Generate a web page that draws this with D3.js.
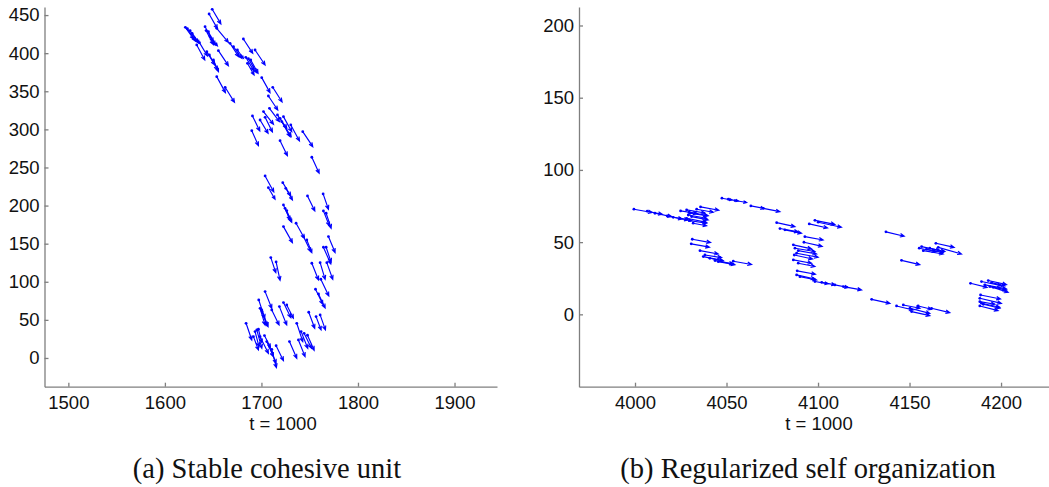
<!DOCTYPE html>
<html>
<head>
<meta charset="utf-8">
<script src="https://cdn.jsdelivr.net/npm/d3@7"></script>
<style>
body { margin: 0; background: #fff; }
svg { display: block; }
.tick text { font-family: "Liberation Sans", Arial, sans-serif; font-size: 18.5px; fill: #111; }
.domain, .tick line { stroke: #7f7f7f; stroke-width: 1.3; }
.xlab { font-family: "Liberation Sans", Arial, sans-serif; font-size: 18.5px; fill: #111; }
</style>
</head>
<body>
<div id="testbed"></div>
<script>

//Panel (a) - stable cohesive unit, arrow tails and velocities
var leftX = [1649.0,1645.8,1621.2,1623.3,1626.1,1628.2,1633.0,1635.8,1641.6,1642.7,1645.1,1646.8,1643.4,1646.1,1650.3,1655.4,1653.7,1667.5,1671.0,1681.3,
    1693.4,1683.8,1686.5,1688.9,1685.5,1653.7,1662.4,1700.3,1711.7,1707.2,1708.3,1702.1,1716.6,1719.3,1721.1,1690.7,1698.6,1703.8,1730.4,1742.8,
    1690.0,1719.3,1752.2,1703.8,1707.2,1722.1,1725.2,1722.8,1675.1,
    1747.7,1763.9,1722.8,1724.5,1726.2,1764.2,1767.0,1722.8,1735.9,1743.5,1747.0,1769.4,1764.2,1767.0,1709.7,1715.2,1752.2,1760.8,1767.7,1761.5,
    1756.0,1759.1,1703.8,1697.2,1698.6,1700.7,1710.7,1718.6,1722.8,1726.2,1684.1,1693.4,1695.2,1698.6,1703.1,1705.5,1708.3,1715.2,1749.0,1756.6,
    1760.8,1736.6,1741.1,1744.2,1747.7,1738.3,1729.0,1710.7,1696.9,1691.7,1700.3];
var leftY = [457.6,451.4,433.9,432.2,429.6,426.1,410.8,413.8,434.8,429.6,428.2,421.7,402.0,397.6,391.1,403.3,432.6,412.9,408.6,418.6,
    404.2,394.6,392.8,391.1,386.7,369.2,355.2,367.9,355.2,343.8,327.6,323.3,318.9,314.5,310.2,317.6,312.3,315.8,305.8,297.0,
    298.3,285.2,263.4,238.9,223.5,230.1,222.7,316.7,404.2,
    212.6,215.3,200.8,196.4,193.4,193.0,189.9,172.4,176.8,159.3,154.9,159.3,145.3,145.3,131.7,126.0,124.3,125.1,125.1,103.3,
    90.2,84.0,87.1,76.2,65.2,60.9,63.0,67.4,72.7,69.6,45.5,34.6,36.8,28.0,29.4,21.5,14.9,16.2,60.0,54.3,
    56.5,45.5,34.6,32.4,29.8,23.7,21.5,11.4,37.7,28.0,63.0];
var leftU = [9.0,8.6,8.6,8.6,8.3,7.6,8.3,8.3,8.6,7.6,6.9,7.6,8.3,8.6,5.2,10.4,12.1,9.0,8.6,9.7,
    10.4,8.3,8.6,7.6,6.9,9.0,9.7,8.6,9.7,9.7,10.4,10.4,9.7,10.4,9.7,7.6,8.3,7.6,9.0,10.4,
    6.9,7.6,7.6,9.0,6.9,8.3,6.9,8.6,6.2,
    7.6,5.5,6.9,6.2,5.2,6.2,5.2,9.3,8.6,7.6,5.2,6.9,7.6,5.2,5.2,4.1,6.9,5.2,6.2,8.3,
    7.6,6.9,6.9,6.2,5.2,6.2,7.6,7.6,7.6,6.9,5.9,4.1,5.2,8.6,6.2,6.9,6.9,7.6,6.2,5.2,
    5.5,6.2,6.9,7.6,6.9,6.9,7.6,4.8,3.5,5.2,5.5];
var leftV = [-19.2,-19.2,-15.3,-16.6,-15.7,-13.1,-19.7,-17.5,-19.7,-18.4,-17.5,-12.2,-17.5,-19.7,-15.3,-19.7,-18.4,-17.5,-15.3,-18.8,
    -19.7,-17.5,-18.4,-17.5,-15.3,-21.0,-19.7,-19.7,-19.2,-18.4,-17.5,-16.6,-17.5,-24.1,-19.7,-19.7,-17.5,-19.2,-21.0,-19.7,
    -19.7,-19.7,-21.0,-21.0,-15.3,-17.5,-15.3,-19.7,-10.9,
    -19.7,-20.1,-19.7,-17.5,-15.3,-19.7,-19.7,-21.0,-19.7,-19.7,-16.6,-21.0,-21.9,-19.7,-19.7,-24.1,-21.9,-21.9,-21.9,-21.9,
    -19.7,-18.4,-21.9,-24.1,-21.9,-19.7,-19.7,-24.1,-19.7,-17.5,-21.9,-19.7,-24.1,-21.9,-15.3,-19.7,-21.9,-19.7,-21.0,-17.5,
    -19.7,-24.1,-21.9,-19.7,-19.7,-21.9,-21.9,-24.1,-17.5,-17.5,-21.0];

//Panel (b) - regularized self organization
var rightX = [3999.4,4006.7,4010.9,4017.6,4020.9,4024.5,4024.9,4028.2,4029.6,4029.1,4028.2,4030.0,4030.9,4033.7,4035.8,4031.8,4030.0,
    4047.5,4051.0,4054.6,4063.3,4070.1,4031.3,4030.7,4035.5,4038.2,4037.3,4040.9,4045.5,4053.7,4043.7,
    4077.4,4079.2,4081.9,4086.5,4087.4,4089.2,4088.3,4087.0,4086.5,4089.2,4088.6,4088.3,4090.1,4092.3,4092.8,4098.3,4095.2,4100.1,
    4098.3,4102.0,4109.2,4113.8,4129.3,4137.1,4145.6,4142.9,4146.6,4150.2,4154.7,4162.0,4151.1,
    4155.3,4156.6,4159.3,4157.5,4164.4,4165.7,4161.1,
    4183.3,4189.3,4191.2,4193.0,4193.9,4195.7,4188.8,4188.4,4189.3,4188.4,4190.3,4188.4,4194.8];
var rightY = [72.8,71.4,70.0,68.1,67.2,66.5,71.6,72.3,70.7,68.8,66.5,64.9,67.7,72.8,74.4,63.1,70.0,
    80.4,79.7,78.8,75.1,73.4,52.0,48.8,44.1,41.1,40.0,38.8,36.5,36.8,37.2,
    63.5,59.4,58.5,48.1,45.8,44.1,42.3,41.1,37.7,35.4,30.1,27.3,26.1,49.9,53.8,65.1,62.6,63.8,
    22.7,22.2,20.4,19.2,10.4,57.1,37.4,5.8,6.5,4.2,5.8,4.2,1.9,
    45.8,46.9,45.1,44.1,49.2,46.4,45.8,
    21.5,22.7,20.4,23.4,19.2,18.7,13.4,11.1,7.7,5.8,7.0,8.8,22.0];
var rightU = [10.0,8.2,9.1,8.2,8.2,6.4,9.1,10.0,10.0,10.0,10.9,9.1,9.1,9.1,10.0,7.3,10.0,
    5.5,5.5,6.4,7.3,9.1,10.0,10.0,10.0,9.1,10.9,7.3,9.1,10.0,10.0,
    10.0,10.0,9.1,10.0,10.9,10.0,11.8,10.0,10.0,9.1,10.0,10.0,9.1,10.0,10.0,10.9,10.0,12.7,
    7.3,7.3,7.3,10.0,10.0,10.0,10.0,9.1,9.1,10.9,7.3,10.0,10.0,
    9.1,10.0,9.1,10.9,10.0,12.7,8.2,
    9.1,10.9,11.8,10.0,9.1,8.2,10.9,11.8,10.0,10.0,9.1,8.2,7.3];
var rightV = [-2.3,-2.1,-2.3,-2.1,-1.8,-1.6,-1.8,-2.1,-2.3,-2.3,-2.8,-1.8,-2.3,-2.1,-2.3,-1.8,-1.8,
    -1.2,-1.2,-1.4,-1.8,-2.3,-2.3,-2.3,-2.3,-1.8,-2.8,-1.8,-2.1,-2.3,-2.3,
    -2.8,-2.3,-2.3,-2.8,-2.3,-2.3,-2.8,-2.8,-2.3,-2.3,-2.3,-2.8,-2.3,-2.8,-2.3,-2.8,-2.8,-3.5,
    -1.6,-1.8,-1.8,-2.3,-2.8,-3.0,-3.0,-2.8,-2.3,-3.5,-2.3,-3.0,-2.8,
    -2.3,-2.8,-2.3,-2.3,-2.8,-4.6,-2.3,
    -2.8,-2.8,-2.8,-2.8,-2.3,-3.5,-2.8,-3.5,-2.8,-3.2,-2.8,-1.8,-2.3];

//Axis ticks
var leftXTicks = [1500,1600,1700,1800,1900];
var leftYTicks = [0,50,100,150,200,250,300,350,400,450];
var rightXTicks = [4000,4050,4100,4150,4200];
var rightYTicks = [0,50,100,150,200];

var width = 1049, height = 487;

var svg = d3.select("#testbed")
    .append("svg")
    .attr("width",width)
    .attr("height",height);

//Build one quiver panel
function panel(cfg) {
    var sx = d3.scaleLinear().domain(cfg.xdom).range(cfg.xr);
    var sy = d3.scaleLinear().domain(cfg.ydom).range([386.7,7]);

    var g = svg.append("g");

    g.append("g")
        .attr("transform","translate(0,386.7)")
        .call(d3.axisBottom(sx).tickValues(cfg.xt).tickFormat(d3.format("d"))
            .tickSizeInner(-4).tickSizeOuter(0).tickPadding(9));

    g.append("g")
        .attr("transform","translate(" + cfg.xr[0] + ",0)")
        .call(d3.axisLeft(sy).tickValues(cfg.yt).tickFormat(d3.format("d"))
            .tickSizeInner(-4).tickSizeOuter(0).tickPadding(5));

    var arrows = d3.range(cfg.x.length).map(function(i) {
        return {x: cfg.x[i], y: cfg.y[i], u: cfg.u[i], v: cfg.v[i]};
    });

    g.append("g")
        .selectAll("path")
        .data(arrows)
        .enter()
        .append("path")
        .attr("fill","none")
        .attr("stroke","#0000ff")
        .attr("stroke-width",1.15)
        .attr("d",function(d) {
            var x0 = sx(d.x), y0 = sy(d.y);
            var x1 = sx(d.x + d.u), y1 = sy(d.y + d.v);
            var a = Math.atan2(y1 - y0,x1 - x0);
            var len = Math.hypot(x1 - x0,y1 - y0);
            var h = Math.min(4.5,0.3 * len);
            return "M" + x0 + "," + y0 + "L" + x1 + "," + y1 +
                "M" + (x1 - h * Math.cos(a - 0.4)) + "," + (y1 - h * Math.sin(a - 0.4)) +
                "L" + x1 + "," + y1 +
                "L" + (x1 - h * Math.cos(a + 0.4)) + "," + (y1 - h * Math.sin(a + 0.4));
        });

    g.append("g")
        .selectAll("circle")
        .data(arrows)
        .enter()
        .append("circle")
        .attr("cx",function(d) { return sx(d.x); })
        .attr("cy",function(d) { return sy(d.y); })
        .attr("r",1.4)
        .attr("fill","#0000ff");

    g.append("text")
        .attr("class","xlab")
        .attr("x",cfg.labx)
        .attr("y",430)
        .attr("text-anchor","middle")
        .text("t = 1000");

    g.append("text")
        .attr("x",cfg.capx)
        .attr("y",478)
        .attr("text-anchor","middle")
        .attr("font-family","'Liberation Serif', 'DejaVu Serif', serif")
        .attr("font-size",28.5)
        .attr("fill","#111")
        .text(cfg.caption);
}

panel({
    x: leftX, y: leftY, u: leftU, v: leftV,
    xdom: [1475.3,1944], xr: [44.5,497], ydom: [-37.7,460.6],
    xt: leftXTicks, yt: leftYTicks,
    labx: 283, capx: 267, caption: "(a) Stable cohesive unit"
});

panel({
    x: rightX, y: rightY, u: rightU, v: rightV,
    xdom: [3969.4,4226.2], xr: [579,1049], ydom: [-50.1,212.8],
    xt: rightXTicks, yt: rightYTicks,
    labx: 819, capx: 808, caption: "(b) Regularized self organization"
});

</script>
</body>
</html>
